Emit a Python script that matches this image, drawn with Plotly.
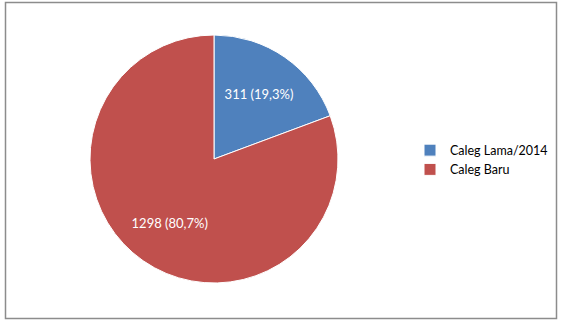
import plotly.graph_objects as go

labels = ["Caleg Lama/2014", "Caleg Baru"]
values = [311, 1298]
colors = ["#4F81BD", "#C0504D"]

total = sum(values)
texts = [f"{v} ({v / total * 100:.1f}%)".replace(".", ",") for v in values]

W, H = 562, 323
cx, cy, r = 214, 159, 124
dom = dict(x=[(cx - r) / W, (cx + r) / W], y=[(H - cy - r) / H, (H - cy + r) / H])
font = "Lato, Open Sans, sans-serif"

fig = go.Figure()
fig.add_trace(go.Pie(
    labels=labels,
    values=values,
    textinfo="none",
    marker=dict(colors=colors, line=dict(color="white", width=1)),
    sort=False,
    direction="clockwise",
    rotation=0,
    domain=dom,
    hoverinfo="label+value+percent",
))
# transparent ring carrying the data labels (places them further out, like Excel)
fig.add_trace(go.Pie(
    labels=labels,
    values=values,
    text=texts,
    texttemplate="%{text}",
    textposition="inside",
    insidetextorientation="horizontal",
    textfont=dict(family=font, size=13, color="white"),
    marker=dict(colors=["rgba(0,0,0,0)"] * 2, line=dict(width=0)),
    sort=False,
    direction="clockwise",
    rotation=0,
    hole=0.25,
    domain=dom,
    showlegend=False,
    hoverinfo="skip",
))

fig.update_layout(
    width=W, height=H,
    margin=dict(l=0, r=0, t=0, b=0),
    paper_bgcolor="white",
    plot_bgcolor="white",
    showlegend=True,
    legend=dict(
        x=410 / W, y=(H - 160) / H, xanchor="left", yanchor="middle",
        font=dict(family=font, size=12.5, color="#000000"),
        bgcolor="rgba(0,0,0,0)",
        itemwidth=30,
    ),
    shapes=[dict(
        type="rect", xref="paper", yref="paper",
        x0=5.5 / W, x1=556.5 / W, y0=(H - 318.5) / H, y1=(H - 2.5) / H,
        line=dict(color="#8C8C8C", width=1.5),
    )],
)

fig.write_html("out.html")
